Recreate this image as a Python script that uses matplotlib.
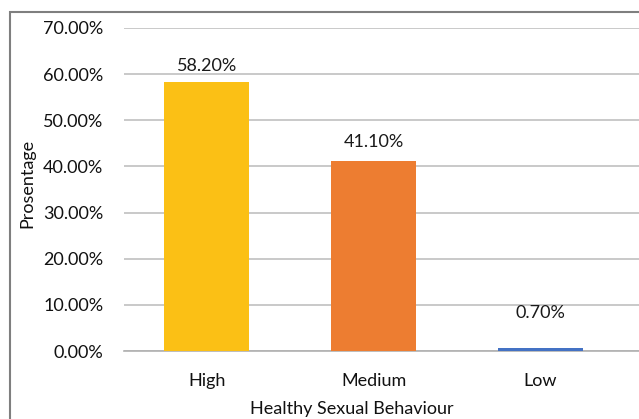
import matplotlib.pyplot as plt
from matplotlib.patches import Rectangle
from matplotlib.ticker import FuncFormatter

categories = ['High', 'Medium', 'Low']
values = [58.2, 41.1, 0.7]
labels = ['58.20%', '41.10%', '0.70%']
colors = ['#FBC015', '#ED7D31', '#4472C4']

plt.rcParams['font.family'] = ['Lato', 'DejaVu Sans']

fig = plt.figure(figsize=(6.39, 4.19), dpi=100)
ax = fig.add_axes([124 / 639, 68 / 419, 1 - 124 / 639, 323 / 419])

x = range(len(categories))
ax.bar(x, values, width=0.51, color=colors, zorder=3)

# label offsets above bars (data units), as in the original layout
offsets = [3.5, 4.3, 7.6]
for i, v in enumerate(values):
    ax.text(i, v + offsets[i], labels[i], ha='center', va='center', fontsize=13, color='#1a1a1a')

ax.set_xlim(-0.497, 2.59)
ax.set_ylim(0, 70)
ax.set_yticks(range(0, 71, 10))
ax.yaxis.set_major_formatter(FuncFormatter(lambda v, p: f'{v:.2f}%'))
ax.set_xticks(list(x))
ax.set_xticklabels(categories)
ax.tick_params(axis='both', length=0, labelsize=13, colors='#111111')
ax.tick_params(axis='y', pad=15)
ax.tick_params(axis='x', pad=16)
ax.grid(axis='y', color='#C0C0C0', lw=1.2, zorder=0)
for s in ['top', 'right', 'left']:
    ax.spines[s].set_visible(False)
ax.spines['bottom'].set_color('#B0B0B0')
ax.spines['bottom'].set_linewidth(1.2)

ax.set_xlabel('Healthy Sexual Behaviour', fontsize=13, color='#111111')
ax.xaxis.set_label_coords(0.443, -0.155)
ax.set_ylabel('Prosentage', fontsize=13, color='#111111')
ax.yaxis.set_label_coords(-0.172, 0.52)

fig.patches.append(Rectangle((9.5 / 639, -0.1), 1.2, (419 - 12) / 419 + 0.1,
                             transform=fig.transFigure, fill=False,
                             edgecolor='#7F7F7F', lw=1.5))

plt.savefig('out.png', dpi=100)
